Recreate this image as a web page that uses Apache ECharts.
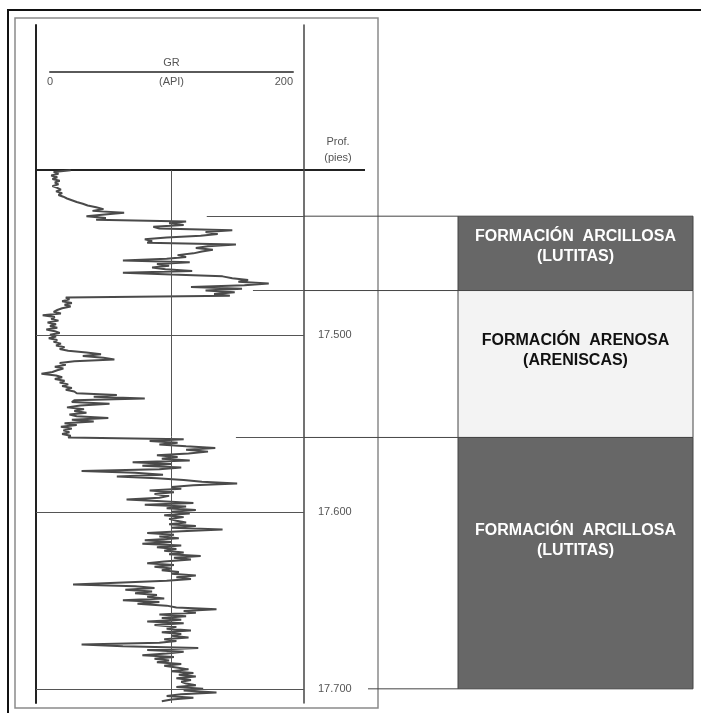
<!DOCTYPE html>
<html>
<head>
<meta charset="utf-8">
<title>Registro GR</title>
<script src="https://cdn.jsdelivr.net/npm/echarts/dist/echarts.min.js"></script>
<style>
  html, body { margin: 0; padding: 0; background: #fff; }
  #main { width: 701px; height: 713px; }
</style>
</head>
<body>
<div id="main"></div>
<script>
// registro de rayos gamma, una muestra por pie
var depthTop = 17407;
var depthStep = 1;
var grValues = [
  17, 3, 7, 1, 6, 2, 8, 4, 7, 2,
  6, 9, 5, 10, 7, 11, 14, 18, 22, 27,
  31, 38, 44, 35, 61, 45, 30, 46, 38, 112,
  98, 110, 85, 90, 150, 128, 138, 124, 96, 78,
  84, 80, 153, 130, 120, 134, 125, 118, 105, 112,
  96, 60, 115, 88, 98, 84, 95, 117, 60, 100,
  142, 150, 163, 155, 180, 160, 116, 158, 128, 152,
  135, 148, 13, 16, 10, 18, 12, 17, 10, 6,
  3, 9, -6, 4, 1, 7, -2, 5, 0, 6,
  -3, 4, 8, 0, 5, -1, 6, 3, 9, 5,
  12, 8, 15, 30, 42, 27, 44, 53, 20, 8,
  13, 4, 11, 6, 2, -7, 5, 10, 4, 12,
  8, 15, 10, 18, 13, 20, 22, 55, 36, 78,
  20, 18, 49, 25, 14, 28, 20, 30, 16, 22,
  48, 18, 36, 12, 22, 9, 18, 11, 16, 10,
  17, 15, 110, 82, 105, 90, 112, 136, 112, 130,
  114, 88, 105, 92, 115, 68, 100, 76, 108, 90,
  26, 70, 93, 55, 88, 110, 125, 154, 118, 100,
  108, 82, 102, 86, 98, 90, 63, 92, 118, 78,
  112, 96, 120, 100, 115, 94, 110, 98, 104, 112,
  98, 120, 100, 142, 108, 80, 102, 90, 106, 78,
  100, 76, 108, 88, 104, 94, 110, 98, 124, 102,
  116, 94, 80, 102, 86, 100, 92, 106, 100, 120,
  104, 116, 96, 95, 19, 70, 86, 62, 84, 70,
  88, 80, 94, 60, 90, 72, 96, 104, 137, 110,
  120, 90, 112, 92, 108, 80, 110, 86, 104, 96,
  116, 92, 108, 100, 114, 94, 104, 90, 26, 60,
  122, 80, 110, 96, 76, 102, 86, 98, 88, 108,
  94, 104, 114, 100, 118, 106, 120, 104, 116, 108,
  112, 120, 104, 126, 110, 137, 108, 96, 118, 100,
  92
];
var depthMarks = [17500, 17600, 17700];
var grScale = [0, 200];
var grMid = 100;

// formaciones
var formTops = [17433, 17475, 17558];
var formBases = [17475, 17558, 17700];
var formNames = [
  'FORMACIÓN  ARCILLOSA\n(LUTITAS)',
  'FORMACIÓN  ARENOSA\n(ARENISCAS)',
  'FORMACIÓN  ARCILLOSA\n(LUTITAS)'
];
var formKinds = ['lutita', 'arenisca', 'lutita'];
// donde arranca la linea de contacto dentro de la pista (en API)
var contactGR = [129, 167, 153];

// layout
var trackLeft = 36, trackRight = 304, trackTop = 25, trackBottom = 703;
var boxLeft = 458, boxRight = 693;
var depthMin = 17325, depthMax = 17708;
var grMin = -11.5, grMax = 209;
var font = '"Liberation Sans", Arial, sans-serif';

var curve = grValues.map(function (v, i) {
  return [v, depthTop + i * depthStep];
});
var forms = formTops.map(function (t, i) {
  return [t, formBases[i], i];
});

var gridLines = depthMarks.map(function (d) { return { yAxis: d }; });
gridLines.push([{ coord: [grMid, depthTop] }, { coord: [grMid, depthMax] }]);
var contactLines = formTops.map(function (t, i) {
  return [{ coord: [contactGR[i], t] }, { coord: [grMax, t] }];
});

var chart = echarts.init(document.getElementById('main'));
chart.setOption({
  animation: false,
  backgroundColor: '#fff',
  textStyle: { fontFamily: font },
  grid: [
    { left: trackLeft, top: trackTop, width: trackRight - trackLeft, height: trackBottom - trackTop, outerBoundsMode: 'none' },
    { left: 50, top: 71, width: 243, height: 1, outerBoundsMode: 'none' },
    { left: boxLeft, top: trackTop, width: boxRight - boxLeft, height: trackBottom - trackTop, outerBoundsMode: 'none' }
  ],
  xAxis: [
    { gridIndex: 0, type: 'value', min: grMin, max: grMax, show: false },
    {
      gridIndex: 1, type: 'value', position: 'bottom', min: grScale[0], max: grScale[1], interval: 200,
      axisLine: { show: true, lineStyle: { color: '#5a5a5a', width: 2 } },
      axisTick: { show: false }, splitLine: { show: false },
      axisLabel: { margin: 4, color: '#555', fontSize: 11, alignMinLabel: 'center', alignMaxLabel: 'right' },
      name: '(API)', nameLocation: 'middle', nameGap: 4, nameMoveOverlap: false,
      nameTextStyle: { color: '#555', fontSize: 11, verticalAlign: 'top' }
    },
    {
      gridIndex: 1, type: 'value', position: 'top', min: grScale[0], max: grScale[1],
      axisLine: { show: false }, axisTick: { show: false }, axisLabel: { show: false }, splitLine: { show: false },
      name: 'GR', nameLocation: 'middle', nameGap: 3, nameMoveOverlap: false,
      nameTextStyle: { color: '#555', fontSize: 11, verticalAlign: 'bottom' }
    },
    { gridIndex: 2, type: 'value', min: 0, max: 1, show: false }
  ],
  yAxis: [
    {
      gridIndex: 0, type: 'value', inverse: true, min: depthMin, max: depthMax, position: 'left',
      axisLine: { show: true, onZero: false, lineStyle: { color: '#222', width: 2 } },
      axisTick: { show: false }, axisLabel: { show: false }, splitLine: { show: false }
    },
    {
      gridIndex: 0, type: 'value', inverse: true, min: depthMin, max: depthMax, position: 'right',
      axisLine: { show: true, onZero: false, lineStyle: { color: '#444', width: 1.5 } },
      axisTick: { show: false }, splitLine: { show: false },
      axisLabel: {
        customValues: depthMarks, margin: 14, color: '#555', fontSize: 11,
        formatter: function (v) { return (v / 1000).toFixed(3); }
      }
    },
    { gridIndex: 1, type: 'value', show: false },
    { gridIndex: 2, type: 'value', inverse: true, min: depthMin, max: depthMax, show: false }
  ],
  graphic: [
    { type: 'rect', shape: { x: 8, y: 10, width: 720, height: 720 }, style: { fill: 'none', stroke: '#111', lineWidth: 2 } },
    { type: 'rect', shape: { x: 15, y: 18, width: 363, height: 690 }, style: { fill: 'none', stroke: '#8a8a8a', lineWidth: 1.5 } },
    { type: 'line', shape: { x1: trackLeft, y1: 170, x2: 365, y2: 170 }, style: { stroke: '#222', lineWidth: 2 } },
    {
      type: 'text', x: 338, y: 150,
      style: { text: 'Prof.\n(pies)', align: 'center', verticalAlign: 'middle', fill: '#555', fontSize: 11, lineHeight: 16, fontFamily: font }
    }
  ],
  series: [
    {
      name: 'GR', type: 'line', xAxisIndex: 0, yAxisIndex: 0,
      data: curve, showSymbol: false, symbol: 'none', clip: false,
      lineStyle: { color: '#4a4a4a', width: 2 },
      markLine: {
        silent: true, symbol: ['none', 'none'], label: { show: false },
        lineStyle: { color: '#555', width: 1, type: 'solid' },
        data: gridLines.concat(contactLines)
      }
    },
    {
      name: 'formaciones', type: 'custom', xAxisIndex: 3, yAxisIndex: 3,
      data: forms, clip: false,
      renderItem: function (params, api) {
        var i = api.value(2);
        var p0 = api.coord([0, api.value(0)]);
        var p1 = api.coord([1, api.value(1)]);
        var h = p1[1] - p0[1];
        var shale = formKinds[i] === 'lutita';
        var kids = [
          {
            type: 'rect',
            shape: { x: p0[0], y: p0[1], width: p1[0] - p0[0], height: h },
            style: { fill: shale ? '#676767' : '#f3f3f3', stroke: '#444', lineWidth: 1 }
          },
          {
            type: 'text',
            style: {
              text: formNames[i], x: (p0[0] + p1[0]) / 2, y: p0[1] + h * 0.41,
              align: 'center', verticalAlign: 'middle', fill: shale ? '#fff' : '#111',
              fontSize: 16, fontWeight: 'bold', fontFamily: font, lineHeight: 20
            }
          },
          {
            type: 'line',
            shape: { x1: trackRight, y1: p0[1], x2: p0[0], y2: p0[1] },
            style: { stroke: '#444', lineWidth: 1 }
          }
        ];
        if (i === formTops.length - 1) {
          // la base sale despues del rotulo de profundidad
          kids.push({
            type: 'line',
            shape: { x1: trackRight + 64, y1: p1[1], x2: p0[0], y2: p1[1] },
            style: { stroke: '#444', lineWidth: 1 }
          });
        }
        return { type: 'group', children: kids };
      }
    }
  ]
});
</script>
</body>
</html>
